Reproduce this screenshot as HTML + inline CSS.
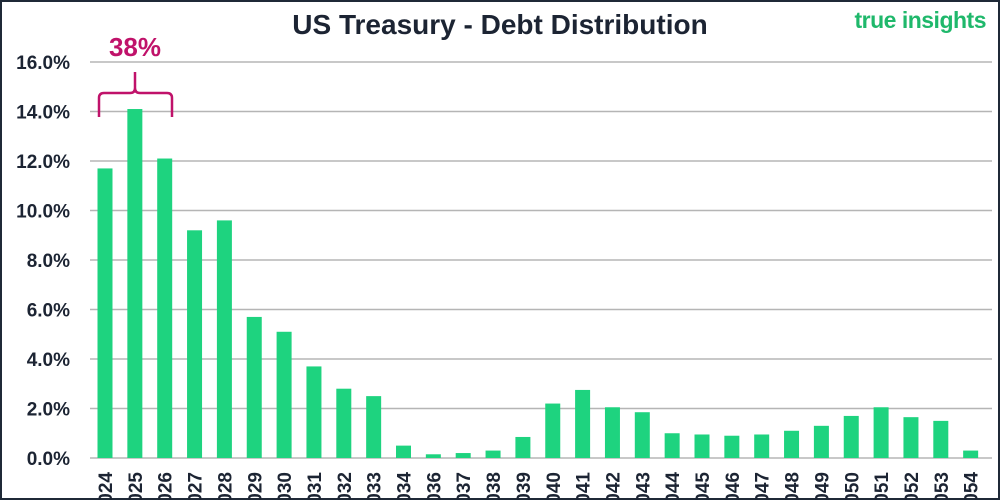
<!DOCTYPE html>
<html><head><meta charset="utf-8">
<style>
html,body{margin:0;padding:0;background:#fff;}
body{width:1000px;height:500px;overflow:hidden;position:relative;font-family:"Liberation Sans",sans-serif;}
#frame{position:absolute;left:0;top:0;width:996px;height:496px;border:2px solid #1f2937;}
#title{position:absolute;left:0;width:1000px;top:9px;text-align:center;font-size:28px;font-weight:bold;color:#1c2433;}
#logo{position:absolute;right:14px;top:7px;font-size:23px;font-weight:bold;color:#1fb86b;letter-spacing:-0.5px;}
</style></head><body>
<div id="frame"></div>
<div id="title">US Treasury - Debt Distribution</div>
<div id="logo">true insights</div>
<svg id="chart" width="1000" height="500" style="position:absolute;left:0;top:0"></svg>
<script>
const categories=["2024","2025","2026","2027","2028","2029","2030","2031","2032","2033","2034","2036","2037","2038","2039","2040","2041","2042","2043","2044","2045","2046","2047","2048","2049","2050","2051","2052","2053","2054"];
const values=[11.7,14.1,12.1,9.2,9.6,5.7,5.1,3.7,2.8,2.5,0.5,0.15,0.2,0.3,0.85,2.2,2.75,2.05,1.85,1.0,0.95,0.9,0.95,1.1,1.3,1.7,2.05,1.65,1.5,0.3];
const yTicks=[0,2,4,6,8,10,12,14,16];
const NS="http://www.w3.org/2000/svg";
const svg=document.getElementById('chart');
const y0=458,pxPer=24.75,x0=105,step=29.85,bw=15;
const yScale=v=>y0-v*pxPer;
const xScale=i=>x0+i*step;
function mk(t,a){const e=document.createElementNS(NS,t);for(const k in a)e.setAttribute(k,a[k]);svg.appendChild(e);return e;}
yTicks.forEach(t=>{
  const l=mk('line',{x1:90,x2:992,y1:yScale(t),y2:yScale(t),stroke:'#b5b5b5','stroke-width':1.5});
  
  
  const tx=mk('text',{x:70,y:yScale(t)+7,'text-anchor':'end','font-size':19,'font-weight':'bold',fill:'#1c2433','font-family':'Liberation Sans, sans-serif'});
  tx.textContent=t.toFixed(1)+'%';
  
  
});
values.forEach((v,i)=>{
  const r=mk('rect',{x:xScale(i)-bw/2,y:yScale(v),width:bw,height:v*pxPer,fill:'#1ed37f'});
  
  
  const tx=mk('text',{transform:`translate(${xScale(i)+7},${y0+14}) rotate(-90)`,'text-anchor':'end','font-size':19,'font-weight':'bold',fill:'#1c2433','font-family':'Liberation Sans, sans-serif'});
  tx.textContent=categories[i];
  
  
});
const b=mk('path',{d:'M99,117 L99,98 Q99,93 104,93 L130,93 Q135,93 135,88 L135,72 M135,88 Q135,93 140,93 L167,93 Q172,93 172,98 L172,117',fill:'none',stroke:'#c0126a','stroke-width':2.5});


const at=mk('text',{x:135,y:56,'text-anchor':'middle','font-size':26,'font-weight':'bold',fill:'#c0126a','font-family':'Liberation Sans, sans-serif'});
at.textContent='38%';


</script>
</body></html>
